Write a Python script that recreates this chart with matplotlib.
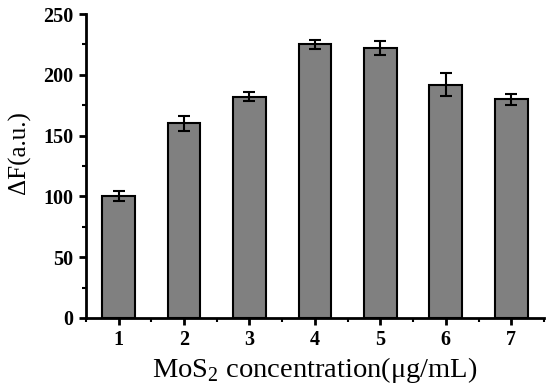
import matplotlib
matplotlib.use("Agg")
import matplotlib.pyplot as plt
from matplotlib.ticker import MultipleLocator

categories = [1, 2, 3, 4, 5, 6, 7]
values = [100, 160, 182, 225, 222, 192, 180]
errors = [4, 6.5, 3.5, 3.5, 6, 9.5, 4.5]
yticks = [0, 50, 100, 150, 200, 250]

plt.rcParams['font.family'] = ['Liberation Serif', 'DejaVu Serif']
plt.rcParams['mathtext.fontset'] = 'custom'
plt.rcParams['mathtext.rm'] = 'Liberation Serif'

fig = plt.figure(figsize=(5.5, 3.91), dpi=100)
ax = fig.add_axes([0.156, 0.187, 0.833, 0.777])

ax.bar(categories, values, width=0.5, color='#808080', edgecolor='black', linewidth=1.5, zorder=2)
ax.errorbar(categories, values, yerr=errors, fmt='none', ecolor='black', elinewidth=1.5,
            capsize=4, capthick=1.5, zorder=3)

ax.set_xlim(0.5, 7.5)
ax.set_ylim(0, 250)
ax.set_xticks(categories)
ax.set_yticks(yticks)
ax.xaxis.set_minor_locator(MultipleLocator(0.5))
ax.yaxis.set_minor_locator(MultipleLocator(25))

for s in ['top', 'right']:
    ax.spines[s].set_visible(False)
for s in ['left', 'bottom']:
    ax.spines[s].set_linewidth(2)

ax.tick_params(which='major', direction='out', length=5, width=2, labelsize=14.5, pad=4)
ax.tick_params(which='minor', direction='out', length=3, width=1.5)
for lab in ax.get_xticklabels() + ax.get_yticklabels():
    lab.set_fontweight('bold')

ax.set_xlabel(r'MoS$_2$ concentration(μg/mL)', fontsize=20.5, labelpad=3)
ax.set_ylabel('ΔF(a.u.)', fontsize=18)
ax.yaxis.set_label_coords(-0.12, 0.545)

fig.savefig('out.png', dpi=100)
